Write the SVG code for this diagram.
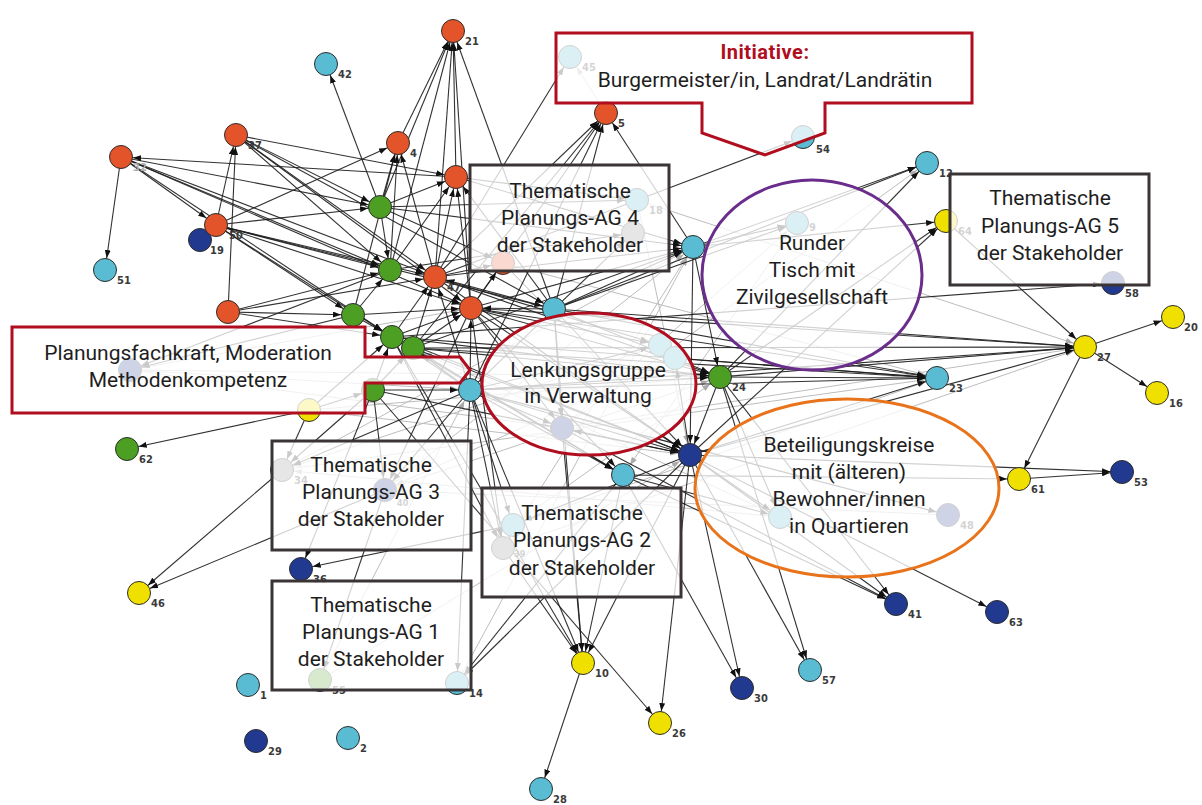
<svg xmlns="http://www.w3.org/2000/svg" width="1202" height="805" viewBox="0 0 1202 805">
<style>
.e{stroke:#1c1c1c;stroke-width:1.1;stroke-opacity:.9;marker-end:url(#a)}
.g{stroke:#bdbdbd;stroke-width:1;marker-end:url(#b)}
.n circle{stroke:#2e2e2e;stroke-width:1}
.or{fill:#e4542a}.gr{fill:#4c9f22}.cy{fill:#5abcd2}.bl{fill:#213a8f}.ye{fill:#efe000}.gy{fill:#8e8e8e}
.lb{font-family:"DejaVu Sans Condensed","Liberation Sans",sans-serif;font-size:11px;fill:#3a3a3a;font-weight:bold}
.ov{fill:#fff;fill-opacity:.78;stroke-width:3}
.bx{stroke:#3b3436}.rd{stroke:#b00d1e}
.t{font-family:Roboto,"Liberation Sans",sans-serif;font-size:21px;fill:#1e1e1e;text-anchor:middle}
</style>
<defs>
<marker id="a" viewBox="0 0 8 6" refX="20" refY="3" markerWidth="8" markerHeight="6" markerUnits="userSpaceOnUse" orient="auto"><path d="M0,0 L8,3 L0,6 z" fill="#111"/></marker>
<marker id="b" viewBox="0 0 8 6" refX="20" refY="3" markerWidth="8" markerHeight="6" markerUnits="userSpaceOnUse" orient="auto"><path d="M0,0 L8,3 L0,6 z" fill="#aaa"/></marker>
</defs>
<rect width="1202" height="805" fill="#fff"/>
<g id="connectors">
<g id="gray-edges">
<line class="g" x1="130" y1="370" x2="470" y2="390"/>
<line class="g" x1="130" y1="370" x2="720" y2="377"/>
<line class="g" x1="130" y1="370" x2="471" y2="308"/>
<line class="g" x1="309" y1="410" x2="1085" y2="347"/>
<line class="g" x1="282" y1="470" x2="937" y2="378"/>
<line class="g" x1="385" y1="490" x2="720" y2="377"/>
<line class="g" x1="503" y1="548" x2="1085" y2="347"/>
<line class="g" x1="513" y1="525" x2="937" y2="378"/>
<line class="g" x1="562" y1="428" x2="797" y2="223"/>
<line class="g" x1="562" y1="428" x2="927" y2="163"/>
<line class="g" x1="637" y1="200" x2="1085" y2="347"/>
<line class="g" x1="503" y1="263" x2="937" y2="378"/>
<line class="g" x1="797" y1="223" x2="623" y2="475"/>
<line class="g" x1="606" y1="113" x2="570" y2="57"/>
<line class="g" x1="282" y1="470" x2="693" y2="247"/>
<line class="g" x1="385" y1="490" x2="693" y2="247"/>
<line class="g" x1="503" y1="548" x2="693" y2="247"/>
<line class="g" x1="513" y1="525" x2="720" y2="377"/>
<line class="g" x1="562" y1="428" x2="1085" y2="347"/>
<line class="g" x1="637" y1="200" x2="690" y2="455"/>
<line class="g" x1="503" y1="263" x2="690" y2="455"/>
<line class="g" x1="948" y1="515" x2="470" y2="390"/>
<line class="g" x1="780" y1="517" x2="413" y2="348"/>
<line class="g" x1="320" y1="680" x2="470" y2="390"/>
<line class="g" x1="320" y1="680" x2="690" y2="455"/>
<line class="g" x1="457" y1="683" x2="693" y2="247"/>
<line class="g" x1="780" y1="517" x2="282" y2="470"/>
<line class="g" x1="948" y1="515" x2="385" y2="490"/>
<line class="g" x1="660" y1="345" x2="282" y2="470"/>
<line class="g" x1="675" y1="358" x2="385" y2="490"/>
<line class="g" x1="309" y1="410" x2="690" y2="455"/>
<line class="g" x1="130" y1="370" x2="562" y2="428"/>
</g>
<g id="dark-edges">
<line class="e" x1="398" y1="143" x2="453" y2="31"/>
<line class="e" x1="380" y1="207" x2="453" y2="31"/>
<line class="e" x1="390" y1="270" x2="453" y2="31"/>
<line class="e" x1="456" y1="177" x2="453" y2="31"/>
<line class="e" x1="435" y1="277" x2="453" y2="31"/>
<line class="e" x1="471" y1="308" x2="453" y2="31"/>
<line class="e" x1="554" y1="309" x2="453" y2="31"/>
<line class="e" x1="380" y1="207" x2="326" y2="64"/>
<line class="e" x1="435" y1="277" x2="570" y2="57"/>
<line class="e" x1="435" y1="277" x2="606" y2="113"/>
<line class="e" x1="471" y1="308" x2="606" y2="113"/>
<line class="e" x1="554" y1="309" x2="606" y2="113"/>
<line class="e" x1="470" y1="390" x2="606" y2="113"/>
<line class="e" x1="413" y1="348" x2="606" y2="113"/>
<line class="e" x1="693" y1="247" x2="606" y2="113"/>
<line class="e" x1="435" y1="277" x2="803" y2="137"/>
<line class="e" x1="693" y1="247" x2="927" y2="163"/>
<line class="e" x1="554" y1="309" x2="927" y2="163"/>
<line class="e" x1="720" y1="377" x2="927" y2="163"/>
<line class="e" x1="693" y1="247" x2="946" y2="221"/>
<line class="e" x1="720" y1="377" x2="946" y2="221"/>
<line class="e" x1="690" y1="455" x2="946" y2="221"/>
<line class="e" x1="946" y1="221" x2="1085" y2="347"/>
<line class="e" x1="470" y1="390" x2="1085" y2="347"/>
<line class="e" x1="471" y1="308" x2="1085" y2="347"/>
<line class="e" x1="413" y1="348" x2="1085" y2="347"/>
<line class="e" x1="554" y1="309" x2="1085" y2="347"/>
<line class="e" x1="720" y1="377" x2="1085" y2="347"/>
<line class="e" x1="690" y1="455" x2="1085" y2="347"/>
<line class="e" x1="1085" y1="347" x2="1173" y2="317"/>
<line class="e" x1="1085" y1="347" x2="1157" y2="393"/>
<line class="e" x1="1085" y1="347" x2="1019" y2="479"/>
<line class="e" x1="392" y1="337" x2="1113" y2="283"/>
<line class="e" x1="471" y1="308" x2="937" y2="378"/>
<line class="e" x1="413" y1="348" x2="937" y2="378"/>
<line class="e" x1="470" y1="390" x2="937" y2="378"/>
<line class="e" x1="554" y1="309" x2="937" y2="378"/>
<line class="e" x1="720" y1="377" x2="937" y2="378"/>
<line class="e" x1="690" y1="455" x2="937" y2="378"/>
<line class="e" x1="392" y1="337" x2="937" y2="378"/>
<line class="e" x1="675" y1="358" x2="937" y2="378"/>
<line class="e" x1="690" y1="455" x2="1122" y2="472"/>
<line class="e" x1="1019" y1="479" x2="1122" y2="472"/>
<line class="e" x1="623" y1="475" x2="1019" y2="479"/>
<line class="e" x1="470" y1="390" x2="948" y2="515"/>
<line class="e" x1="690" y1="455" x2="896" y2="604"/>
<line class="e" x1="623" y1="475" x2="896" y2="604"/>
<line class="e" x1="720" y1="377" x2="896" y2="604"/>
<line class="e" x1="562" y1="428" x2="896" y2="604"/>
<line class="e" x1="690" y1="455" x2="997" y2="612"/>
<line class="e" x1="690" y1="455" x2="810" y2="670"/>
<line class="e" x1="720" y1="377" x2="810" y2="670"/>
<line class="e" x1="690" y1="455" x2="742" y2="688"/>
<line class="e" x1="623" y1="475" x2="742" y2="688"/>
<line class="e" x1="690" y1="455" x2="660" y2="723"/>
<line class="e" x1="373" y1="390" x2="660" y2="723"/>
<line class="e" x1="470" y1="390" x2="583" y2="663"/>
<line class="e" x1="554" y1="309" x2="583" y2="663"/>
<line class="e" x1="562" y1="428" x2="583" y2="663"/>
<line class="e" x1="623" y1="475" x2="583" y2="663"/>
<line class="e" x1="690" y1="455" x2="583" y2="663"/>
<line class="e" x1="392" y1="337" x2="583" y2="663"/>
<line class="e" x1="503" y1="548" x2="583" y2="663"/>
<line class="e" x1="583" y1="663" x2="541" y2="789"/>
<line class="e" x1="623" y1="475" x2="457" y2="683"/>
<line class="e" x1="470" y1="390" x2="457" y2="683"/>
<line class="e" x1="690" y1="455" x2="457" y2="683"/>
<line class="e" x1="373" y1="390" x2="301" y2="569"/>
<line class="e" x1="513" y1="525" x2="301" y2="569"/>
<line class="e" x1="282" y1="470" x2="139" y2="593"/>
<line class="e" x1="385" y1="490" x2="139" y2="593"/>
<line class="e" x1="309" y1="410" x2="127" y2="449"/>
<line class="e" x1="121" y1="157" x2="105" y2="270"/>
<line class="e" x1="228" y1="312" x2="236" y2="135"/>
<line class="e" x1="216" y1="225" x2="236" y2="135"/>
<line class="e" x1="121" y1="157" x2="380" y2="207"/>
<line class="e" x1="121" y1="157" x2="390" y2="270"/>
<line class="e" x1="121" y1="157" x2="435" y2="277"/>
<line class="e" x1="121" y1="157" x2="392" y2="337"/>
<line class="e" x1="121" y1="157" x2="471" y2="308"/>
<line class="e" x1="456" y1="177" x2="121" y2="157"/>
<line class="e" x1="121" y1="157" x2="216" y2="225"/>
<line class="e" x1="236" y1="135" x2="456" y2="177"/>
<line class="e" x1="236" y1="135" x2="380" y2="207"/>
<line class="e" x1="236" y1="135" x2="435" y2="277"/>
<line class="e" x1="236" y1="135" x2="390" y2="270"/>
<line class="e" x1="236" y1="135" x2="554" y2="309"/>
<line class="e" x1="236" y1="135" x2="471" y2="308"/>
<line class="e" x1="216" y1="225" x2="398" y2="143"/>
<line class="e" x1="216" y1="225" x2="380" y2="207"/>
<line class="e" x1="216" y1="225" x2="390" y2="270"/>
<line class="e" x1="216" y1="225" x2="435" y2="277"/>
<line class="e" x1="216" y1="225" x2="353" y2="315"/>
<line class="e" x1="216" y1="225" x2="554" y2="309"/>
<line class="e" x1="216" y1="225" x2="471" y2="308"/>
<line class="e" x1="216" y1="225" x2="392" y2="337"/>
<line class="e" x1="228" y1="312" x2="353" y2="315"/>
<line class="e" x1="228" y1="312" x2="390" y2="270"/>
<line class="e" x1="228" y1="312" x2="435" y2="277"/>
<line class="e" x1="228" y1="312" x2="392" y2="337"/>
<line class="e" x1="380" y1="207" x2="398" y2="143"/>
<line class="e" x1="390" y1="270" x2="398" y2="143"/>
<line class="e" x1="435" y1="277" x2="398" y2="143"/>
<line class="e" x1="353" y1="315" x2="398" y2="143"/>
<line class="e" x1="380" y1="207" x2="456" y2="177"/>
<line class="e" x1="390" y1="270" x2="456" y2="177"/>
<line class="e" x1="435" y1="277" x2="456" y2="177"/>
<line class="e" x1="471" y1="308" x2="456" y2="177"/>
<line class="e" x1="554" y1="309" x2="456" y2="177"/>
<line class="e" x1="380" y1="207" x2="390" y2="270"/>
<line class="e" x1="353" y1="315" x2="390" y2="270"/>
<line class="e" x1="392" y1="337" x2="435" y2="277"/>
<line class="e" x1="413" y1="348" x2="435" y2="277"/>
<line class="e" x1="353" y1="315" x2="471" y2="308"/>
<line class="e" x1="392" y1="337" x2="471" y2="308"/>
<line class="e" x1="413" y1="348" x2="471" y2="308"/>
<line class="e" x1="470" y1="390" x2="471" y2="308"/>
<line class="e" x1="470" y1="390" x2="435" y2="277"/>
<line class="e" x1="554" y1="309" x2="435" y2="277"/>
<line class="e" x1="554" y1="309" x2="471" y2="308"/>
<line class="e" x1="470" y1="390" x2="392" y2="337"/>
<line class="e" x1="470" y1="390" x2="413" y2="348"/>
<line class="e" x1="373" y1="390" x2="413" y2="348"/>
<line class="e" x1="373" y1="390" x2="392" y2="337"/>
<line class="e" x1="373" y1="390" x2="470" y2="390"/>
<line class="e" x1="309" y1="410" x2="392" y2="337"/>
<line class="e" x1="309" y1="410" x2="373" y2="390"/>
<line class="e" x1="353" y1="315" x2="392" y2="337"/>
<line class="e" x1="435" y1="277" x2="693" y2="247"/>
<line class="e" x1="471" y1="308" x2="693" y2="247"/>
<line class="e" x1="413" y1="348" x2="693" y2="247"/>
<line class="e" x1="554" y1="309" x2="693" y2="247"/>
<line class="e" x1="380" y1="207" x2="693" y2="247"/>
<line class="e" x1="456" y1="177" x2="693" y2="247"/>
<line class="e" x1="435" y1="277" x2="720" y2="377"/>
<line class="e" x1="471" y1="308" x2="720" y2="377"/>
<line class="e" x1="554" y1="309" x2="720" y2="377"/>
<line class="e" x1="413" y1="348" x2="720" y2="377"/>
<line class="e" x1="470" y1="390" x2="720" y2="377"/>
<line class="e" x1="392" y1="337" x2="720" y2="377"/>
<line class="e" x1="435" y1="277" x2="690" y2="455"/>
<line class="e" x1="471" y1="308" x2="690" y2="455"/>
<line class="e" x1="413" y1="348" x2="690" y2="455"/>
<line class="e" x1="470" y1="390" x2="690" y2="455"/>
<line class="e" x1="392" y1="337" x2="690" y2="455"/>
<line class="e" x1="373" y1="390" x2="690" y2="455"/>
<line class="e" x1="554" y1="309" x2="690" y2="455"/>
<line class="e" x1="470" y1="390" x2="623" y2="475"/>
<line class="e" x1="471" y1="308" x2="623" y2="475"/>
<line class="e" x1="413" y1="348" x2="623" y2="475"/>
<line class="e" x1="392" y1="337" x2="623" y2="475"/>
<line class="e" x1="693" y1="247" x2="690" y2="455"/>
<line class="e" x1="693" y1="247" x2="720" y2="377"/>
<line class="e" x1="720" y1="377" x2="690" y2="455"/>
<line class="e" x1="380" y1="207" x2="637" y2="200"/>
<line class="e" x1="456" y1="177" x2="637" y2="200"/>
<line class="e" x1="554" y1="309" x2="797" y2="223"/>
<line class="e" x1="693" y1="247" x2="797" y2="223"/>
<line class="e" x1="435" y1="277" x2="503" y2="263"/>
<line class="e" x1="471" y1="308" x2="503" y2="263"/>
<line class="e" x1="380" y1="207" x2="503" y2="263"/>
<line class="e" x1="470" y1="390" x2="562" y2="428"/>
<line class="e" x1="471" y1="308" x2="562" y2="428"/>
<line class="e" x1="554" y1="309" x2="562" y2="428"/>
<line class="e" x1="690" y1="455" x2="562" y2="428"/>
<line class="e" x1="373" y1="390" x2="282" y2="470"/>
<line class="e" x1="309" y1="410" x2="282" y2="470"/>
<line class="e" x1="470" y1="390" x2="282" y2="470"/>
<line class="e" x1="470" y1="390" x2="385" y2="490"/>
<line class="e" x1="373" y1="390" x2="385" y2="490"/>
<line class="e" x1="471" y1="308" x2="385" y2="490"/>
<line class="e" x1="690" y1="455" x2="780" y2="517"/>
<line class="e" x1="720" y1="377" x2="780" y2="517"/>
<line class="e" x1="623" y1="475" x2="780" y2="517"/>
<line class="e" x1="470" y1="390" x2="503" y2="548"/>
<line class="e" x1="471" y1="308" x2="503" y2="548"/>
<line class="e" x1="392" y1="337" x2="503" y2="548"/>
<line class="e" x1="470" y1="390" x2="513" y2="525"/>
<line class="e" x1="690" y1="455" x2="513" y2="525"/>
<line class="e" x1="385" y1="490" x2="320" y2="680"/>
<line class="e" x1="390" y1="270" x2="130" y2="370"/>
<line class="e" x1="353" y1="315" x2="130" y2="370"/>
<line class="e" x1="470" y1="390" x2="660" y2="345"/>
<line class="e" x1="435" y1="277" x2="660" y2="345"/>
<line class="e" x1="690" y1="455" x2="675" y2="358"/>
<line class="e" x1="471" y1="308" x2="660" y2="345"/>
<line class="e" x1="470" y1="390" x2="633" y2="233"/>
<line class="e" x1="390" y1="270" x2="633" y2="233"/>
</g>
</g>
<g id="nodes">
<g id="n21" class="n"><circle class="or" cx="453" cy="31" r="11.5"/><text class="lb" x="465" y="45">21</text></g>
<g id="n42" class="n"><circle class="cy" cx="326" cy="64" r="11.5"/><text class="lb" x="338" y="78">42</text></g>
<g id="n45" class="n"><circle class="cy" cx="570" cy="57" r="11.5"/><text class="lb" x="582" y="71">45</text></g>
<g id="n5" class="n"><circle class="or" cx="606" cy="113" r="11.5"/><text class="lb" x="618" y="127">5</text></g>
<g id="n54" class="n"><circle class="cy" cx="803" cy="137" r="11.5"/><text class="lb" x="816" y="153">54</text></g>
<g id="n12" class="n"><circle class="cy" cx="927" cy="163" r="11.5"/><text class="lb" x="939" y="177">12</text></g>
<g id="n64" class="n"><circle class="ye" cx="946" cy="221" r="11.5"/><text class="lb" x="958" y="235">64</text></g>
<g id="n37" class="n"><circle class="or" cx="236" cy="135" r="11.5"/><text class="lb" x="248" y="149">37</text></g>
<g id="n32" class="n"><circle class="or" cx="121" cy="157" r="11.5"/><text class="lb" x="133" y="171" style="fill:#aaa">32</text></g>
<g id="n4" class="n"><circle class="or" cx="398" cy="143" r="11.5"/><text class="lb" x="410" y="157">4</text></g>
<g id="n6" class="n"><circle class="or" cx="456" cy="177" r="11.5"/></g>
<g id="n19" class="n"><circle class="bl" cx="200" cy="240" r="11.5"/><text class="lb" x="210" y="254">19</text></g>
<g id="n50" class="n"><circle class="or" cx="216" cy="225" r="11.5"/><text class="lb" x="229" y="239">50</text></g>
<g id="n51" class="n"><circle class="cy" cx="105" cy="270" r="11.5"/><text class="lb" x="117" y="284">51</text></g>
<g id="n22" class="n"><circle class="gr" cx="380" cy="207" r="11.5"/></g>
<g id="n7" class="n"><circle class="gr" cx="390" cy="270" r="11.5"/></g>
<g id="n47" class="n"><circle class="or" cx="435" cy="277" r="11.5"/><text class="lb" x="447" y="291">47</text></g>
<g id="n8" class="n"><circle class="or" cx="471" cy="308" r="11.5"/></g>
<g id="n35" class="n"><circle class="or" cx="228" cy="312" r="11.5"/></g>
<g id="n31" class="n"><circle class="gr" cx="353" cy="315" r="11.5"/></g>
<g id="n11" class="n"><circle class="gr" cx="392" cy="337" r="11.5"/></g>
<g id="n13" class="n"><circle class="gr" cx="413" cy="348" r="11.5"/></g>
<g id="n33" class="n"><circle class="gr" cx="373" cy="390" r="11.5"/></g>
<g id="n15" class="n"><circle class="ye" cx="309" cy="410" r="11.5"/></g>
<g id="n25" class="n"><circle class="cy" cx="470" cy="390" r="11.5"/></g>
<g id="n44" class="n"><circle class="cy" cx="554" cy="309" r="11.5"/></g>
<g id="n60" class="n"><circle class="bl" cx="130" cy="370" r="11.5"/></g>
<g id="n43" class="n"><circle class="cy" cx="693" cy="247" r="11.5"/></g>
<g id="n18" class="n"><circle class="cy" cx="637" cy="200" r="11.5"/><text class="lb" x="649" y="214">18</text></g>
<g id="n49" class="n"><circle class="or" cx="503" cy="263" r="11.5"/></g>
<g id="n52" class="n"><circle class="gy" cx="633" cy="233" r="11.5"/></g>
<g id="n9" class="n"><circle class="cy" cx="797" cy="223" r="11.5"/><text class="lb" x="809" y="231">9</text></g>
<g id="n56" class="n"><circle class="cy" cx="660" cy="345" r="11.5"/></g>
<g id="n59" class="n"><circle class="cy" cx="675" cy="358" r="11.5"/></g>
<g id="n24" class="n"><circle class="gr" cx="720" cy="377" r="11.5"/><text class="lb" x="732" y="391">24</text></g>
<g id="n3" class="n"><circle class="bl" cx="690" cy="455" r="11.5"/></g>
<g id="n38" class="n"><circle class="cy" cx="623" cy="475" r="11.5"/></g>
<g id="n65" class="n"><circle class="bl" cx="562" cy="428" r="11.5"/></g>
<g id="n66" class="n"><circle class="cy" cx="780" cy="517" r="11.5"/></g>
<g id="n48" class="n"><circle class="bl" cx="948" cy="515" r="11.5"/><text class="lb" x="960" y="529">48</text></g>
<g id="n23" class="n"><circle class="cy" cx="937" cy="378" r="11.5"/><text class="lb" x="949" y="392">23</text></g>
<g id="n27" class="n"><circle class="ye" cx="1085" cy="347" r="11.5"/><text class="lb" x="1097" y="361">27</text></g>
<g id="n20" class="n"><circle class="ye" cx="1173" cy="317" r="11.5"/><text class="lb" x="1184" y="331">20</text></g>
<g id="n16" class="n"><circle class="ye" cx="1157" cy="393" r="11.5"/><text class="lb" x="1169" y="407">16</text></g>
<g id="n58" class="n"><circle class="bl" cx="1113" cy="283" r="11.5"/><text class="lb" x="1125" y="297">58</text></g>
<g id="n61" class="n"><circle class="ye" cx="1019" cy="479" r="11.5"/><text class="lb" x="1031" y="493">61</text></g>
<g id="n53" class="n"><circle class="bl" cx="1122" cy="472" r="11.5"/><text class="lb" x="1134" y="486">53</text></g>
<g id="n62" class="n"><circle class="gr" cx="127" cy="449" r="11.5"/><text class="lb" x="139" y="463">62</text></g>
<g id="n34" class="n"><circle class="gy" cx="282" cy="470" r="11.5"/><text class="lb" x="294" y="484">34</text></g>
<g id="n40" class="n"><circle class="bl" cx="385" cy="490" r="11.5"/><text class="lb" x="397" y="506" style="font-size:9px">40</text></g>
<g id="n46" class="n"><circle class="ye" cx="139" cy="593" r="11.5"/><text class="lb" x="151" y="607">46</text></g>
<g id="n36" class="n"><circle class="bl" cx="301" cy="569" r="11.5"/><text class="lb" x="313" y="583">36</text></g>
<g id="n1" class="n"><circle class="cy" cx="248" cy="685" r="11.5"/><text class="lb" x="260" y="699">1</text></g>
<g id="n55" class="n"><circle class="gr" cx="320" cy="680" r="11.5"/><text class="lb" x="332" y="694">55</text></g>
<g id="n29" class="n"><circle class="bl" cx="256" cy="741" r="11.5"/><text class="lb" x="268" y="755">29</text></g>
<g id="n2" class="n"><circle class="cy" cx="348" cy="738" r="11.5"/><text class="lb" x="360" y="752">2</text></g>
<g id="n14" class="n"><circle class="cy" cx="457" cy="683" r="11.5"/><text class="lb" x="469" y="697">14</text></g>
<g id="n10" class="n"><circle class="ye" cx="583" cy="663" r="11.5"/><text class="lb" x="595" y="677">10</text></g>
<g id="n26" class="n"><circle class="ye" cx="660" cy="723" r="11.5"/><text class="lb" x="672" y="737">26</text></g>
<g id="n28" class="n"><circle class="cy" cx="541" cy="789" r="11.5"/><text class="lb" x="553" y="803">28</text></g>
<g id="n30" class="n"><circle class="bl" cx="742" cy="688" r="11.5"/><text class="lb" x="754" y="702">30</text></g>
<g id="n57" class="n"><circle class="cy" cx="810" cy="670" r="11.5"/><text class="lb" x="822" y="684">57</text></g>
<g id="n41" class="n"><circle class="bl" cx="896" cy="604" r="11.5"/><text class="lb" x="908" y="618">41</text></g>
<g id="n63" class="n"><circle class="bl" cx="997" cy="612" r="11.5"/><text class="lb" x="1009" y="626">63</text></g>
<g id="n39" class="n"><circle class="gy" cx="503" cy="548" r="11.5"/><text class="lb" x="514" y="557" style="font-size:9px">39</text></g>
<g id="n67" class="n"><circle class="cy" cx="513" cy="525" r="11.5"/></g>
</g>
<g id="initiative">
<path class="ov rd" d="M556,33 H972 V103 H825 V133 L765,155 L702,133 V103 H556 Z"/>
<text class="t" x="765" y="59" style="font-weight:bold;fill:#b00d1e;font-size:20px;letter-spacing:0.5px">Initiative:</text>
<text class="t" x="765" y="87">Burgermeister/in, Landrat/Landrätin</text>
</g>
<g id="ag4">
<rect class="ov bx" x="470" y="165" width="199" height="106"/>
<text class="t" x="570" y="198">Thematische</text>
<text class="t" x="570" y="225">Planungs-AG 4</text>
<text class="t" x="570" y="252">der Stakeholder</text>
</g>
<g id="ag5">
<rect class="ov bx" x="950" y="174" width="199" height="111"/>
<text class="t" x="1050" y="205">Thematische</text>
<text class="t" x="1050" y="233">Planungs-AG 5</text>
<text class="t" x="1050" y="260">der Stakeholder</text>
</g>
<g id="planung">
<path class="ov rd" d="M12,327 H365 V357 H460 L470,370 L460,383 H365 V413 H12 Z"/>
<text class="t" x="188" y="360">Planungsfachkraft, Moderation</text>
<text class="t" x="188" y="387">Methodenkompetenz</text>
</g>
<g id="runder">
<ellipse class="ov" stroke="#6b2d8b" cx="812" cy="275" rx="110" ry="95"/>
<text class="t" x="812" y="250">Runder</text>
<text class="t" x="812" y="277">Tisch mit</text>
<text class="t" x="812" y="304">Zivilgesellschaft</text>
</g>
<g id="lenkung">
<ellipse class="ov rd" cx="589" cy="384" rx="107" ry="71"/>
<text class="t" x="588" y="377">Lenkungsgruppe</text>
<text class="t" x="588" y="403">in Verwaltung</text>
</g>
<g id="beteiligung">
<ellipse class="ov" stroke="#e8731a" cx="847" cy="488" rx="152" ry="89"/>
<text class="t" x="849" y="452">Beteiligungskreise</text>
<text class="t" x="849" y="479">mit (älteren)</text>
<text class="t" x="849" y="506">Bewohner/innen</text>
<text class="t" x="849" y="533">in Quartieren</text>
</g>
<g id="ag3">
<rect class="ov bx" x="272" y="441" width="199" height="109"/>
<text class="t" x="371" y="472">Thematische</text>
<text class="t" x="371" y="499">Planungs-AG 3</text>
<text class="t" x="371" y="526">der Stakeholder</text>
</g>
<g id="ag2">
<rect class="ov bx" x="482" y="488" width="199" height="109"/>
<text class="t" x="582" y="520">Thematische</text>
<text class="t" x="582" y="547">Planungs-AG 2</text>
<text class="t" x="582" y="575">der Stakeholder</text>
</g>
<g id="ag1">
<rect class="ov bx" x="272" y="581" width="199" height="109"/>
<text class="t" x="371" y="612">Thematische</text>
<text class="t" x="371" y="639">Planungs-AG 1</text>
<text class="t" x="371" y="666">der Stakeholder</text>
</g>
</svg>
